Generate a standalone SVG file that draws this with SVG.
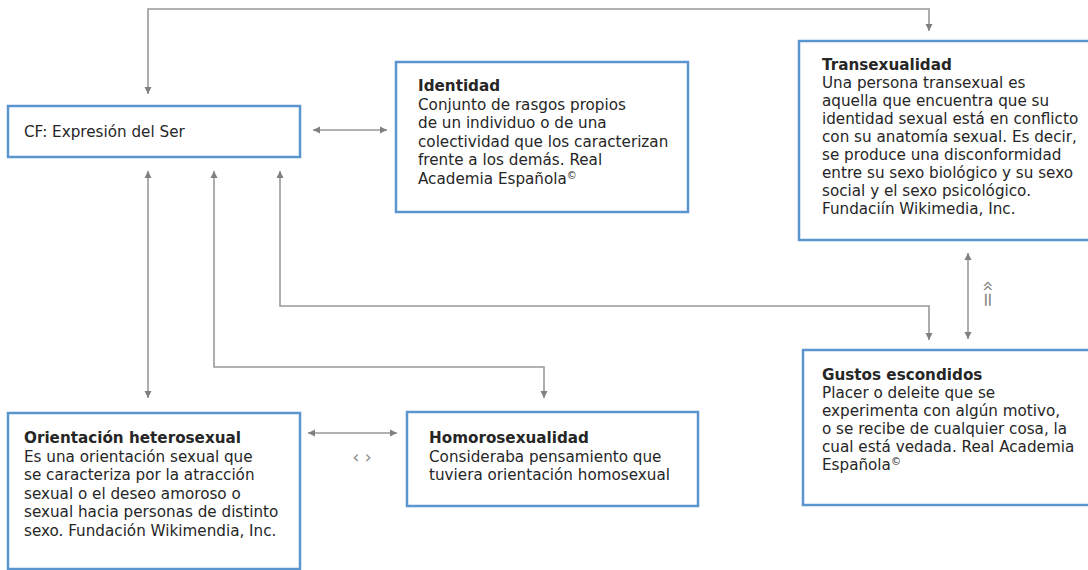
<svg xmlns="http://www.w3.org/2000/svg" width="1088" height="570" viewBox="0 0 1088 570">
<style>
.box{fill:#fff;stroke:#5b95cf;stroke-width:2.5}
.t{font-family:"DejaVu Sans",sans-serif;font-size:15.2px;fill:#262626}
.b{font-weight:bold}
.sup{font-size:10px}
.c{fill:none;stroke:#999;stroke-width:1.6}
.sym{font-family:"DejaVu Sans",sans-serif;font-size:19px;fill:#8a8a8a}
</style>
<defs>
<marker id="ah" viewBox="0 0 10 10" refX="10" refY="5" markerWidth="7" markerHeight="9" markerUnits="userSpaceOnUse" orient="auto-start-reverse">
<path d="M0,0 L10,5 L0,10 Z" fill="#808080"/>
</marker>
</defs>
<rect width="1088" height="570" fill="#fff"/>
<g id="connectors">
<path class="c" d="M929,31 V9 H148 V94" marker-start="url(#ah)" marker-end="url(#ah)"/>
<path class="c" d="M313,130 H387" marker-start="url(#ah)" marker-end="url(#ah)"/>
<path class="c" d="M148,171 V398" marker-start="url(#ah)" marker-end="url(#ah)"/>
<path class="c" d="M214,171 V367 H544 V398" marker-start="url(#ah)" marker-end="url(#ah)"/>
<path class="c" d="M280,171 V306 H929 V340" marker-start="url(#ah)" marker-end="url(#ah)"/>
<path class="c" d="M968,253 V339" marker-start="url(#ah)" marker-end="url(#ah)"/>
<path class="c" d="M308,433 H397" marker-start="url(#ah)" marker-end="url(#ah)"/>
<text class="sym" transform="translate(982,294) rotate(90)" text-anchor="middle">«=</text>
<text class="sym" x="362" y="463" text-anchor="middle" style="font-size:17px">‹ ›</text>
</g>
<g id="cf">
<rect class="box" x="8" y="106" width="292" height="51"/>
<text class="t" x="24" y="137">CF: Expresión del Ser</text>
</g>
<g id="identidad">
<rect class="box" x="396" y="62" width="292" height="150"/>
<text class="t" x="418" y="91"><tspan class="b">Identidad</tspan><tspan x="418" dy="18.5">Conjunto de rasgos propios</tspan><tspan x="418" dy="18.5">de un individuo o de una</tspan><tspan x="418" dy="18.5">colectividad que los caracterizan</tspan><tspan x="418" dy="18.5">frente a los demás. Real</tspan><tspan x="418" dy="18.5">Academia Española</tspan><tspan class="sup" dy="-5">©</tspan></text>
</g>
<g id="transexualidad">
<rect class="box" x="799" y="41" width="295" height="199"/>
<text class="t" x="822" y="70"><tspan class="b">Transexualidad</tspan><tspan x="822" dy="18">Una persona transexual es</tspan><tspan x="822" dy="18">aquella que encuentra que su</tspan><tspan x="822" dy="18">identidad sexual está en conflicto</tspan><tspan x="822" dy="18">con su anatomía sexual. Es decir,</tspan><tspan x="822" dy="18">se produce una disconformidad</tspan><tspan x="822" dy="18">entre su sexo biológico y su sexo</tspan><tspan x="822" dy="18">social y el sexo psicológico.</tspan><tspan x="822" dy="18">Fundaciín Wikimedia, Inc.</tspan></text>
</g>
<g id="gustos">
<rect class="box" x="803" y="350" width="291" height="155"/>
<text class="t" x="822" y="380"><tspan class="b">Gustos escondidos</tspan><tspan x="822" dy="18">Placer o deleite que se</tspan><tspan x="822" dy="18">experimenta con algún motivo,</tspan><tspan x="822" dy="18">o se recibe de cualquier cosa, la</tspan><tspan x="822" dy="18">cual está vedada. Real Academia</tspan><tspan x="822" dy="18">Española</tspan><tspan class="sup" dy="-5">©</tspan></text>
</g>
<g id="orientacion">
<rect class="box" x="8" y="413" width="292" height="156"/>
<text class="t" x="24" y="443"><tspan class="b">Orientación heterosexual</tspan><tspan x="24" dy="18.6">Es una orientación sexual que</tspan><tspan x="24" dy="18.6">se caracteriza por la atracción</tspan><tspan x="24" dy="18.6">sexual o el deseo amoroso o</tspan><tspan x="24" dy="18.6">sexual hacia personas de distinto</tspan><tspan x="24" dy="18.6">sexo. Fundación Wikimendia, Inc.</tspan></text>
</g>
<g id="homorosexualidad">
<rect class="box" x="407" y="412" width="291" height="94"/>
<text class="t" x="429" y="443"><tspan class="b">Homorosexualidad</tspan><tspan x="429" dy="18.5">Consideraba pensamiento que</tspan><tspan x="429" dy="18.5">tuviera orientación homosexual</tspan></text>
</g>
</svg>
